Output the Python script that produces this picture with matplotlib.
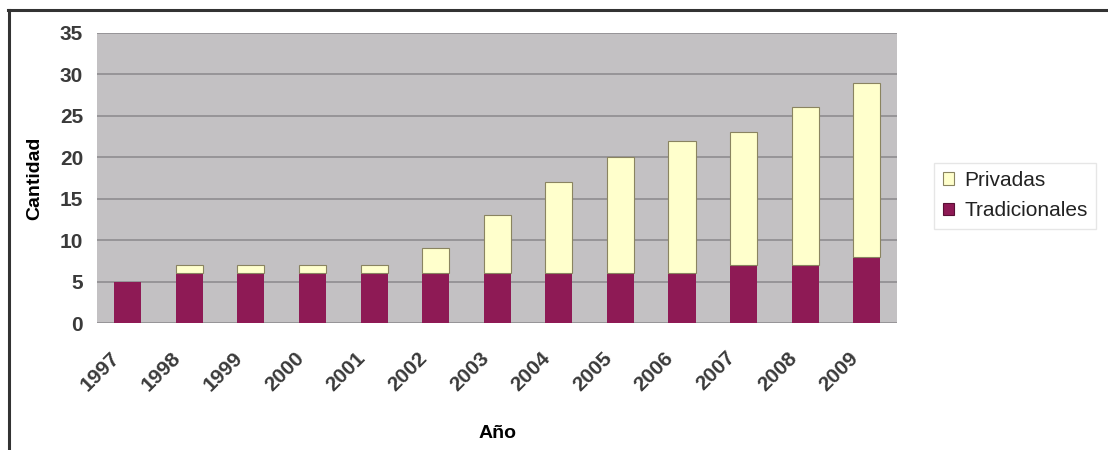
import numpy as np
import matplotlib.pyplot as plt
from matplotlib.lines import Line2D
from matplotlib.patches import Patch
from matplotlib.transforms import ScaledTranslation

plt.rcParams['font.family'] = ['Liberation Sans', 'DejaVu Sans']

anios = ['1997', '1998', '1999', '2000', '2001', '2002', '2003',
         '2004', '2005', '2006', '2007', '2008', '2009']
tradicionales = [5, 6, 6, 6, 6, 6, 6, 6, 6, 6, 7, 7, 8]
privadas = [0, 1, 1, 1, 1, 3, 7, 11, 14, 16, 16, 19, 21]

col_trad = '#8E1A55'
col_priv = '#FFFFCC'
borde_priv = '#8A8460'

fig = plt.figure(figsize=(11.08, 4.5), dpi=100)
ax = fig.add_axes([0.0875, 0.282, 0.7225, 0.645])

x = np.arange(len(anios))
ancho = 0.44
ax.bar(x, tradicionales, ancho, color=col_trad, zorder=3)
bordes = [borde_priv if p > 0 else 'none' for p in privadas]
ax.bar(x, privadas, ancho, bottom=tradicionales, color=col_priv,
       edgecolor=bordes, linewidth=0.8, zorder=3)

ax.set_facecolor('#C3C1C3')
ax.set_xlim(-0.5, len(anios) - 0.5)
ax.set_ylim(0, 35)
ax.set_yticks(range(0, 36, 5))
ax.yaxis.grid(True, color='#8F8D90', linewidth=1.2, zorder=0)
ax.set_axisbelow(True)

ax.set_xticks(x)
ax.set_xticklabels(anios, rotation=45, ha='right', rotation_mode='anchor',
                   fontsize=15, fontweight='bold', color='#3A3A3A')
ax.tick_params(axis='x', length=0, pad=18)
desplaz = ScaledTranslation(-0.18, 0, fig.dpi_scale_trans)
for lab in ax.get_xticklabels():
    lab.set_transform(lab.get_transform() + desplaz)
ax.tick_params(axis='y', length=0, labelsize=15, colors='#3A3A3A', pad=10)
for lab in ax.get_yticklabels():
    lab.set_fontweight('bold')
for s in ax.spines.values():
    s.set_visible(False)

ax.set_ylabel('Cantidad', fontsize=14, fontweight='bold', labelpad=12)
ax.set_xlabel('Año', fontsize=14, fontweight='bold', labelpad=22)

handles = [Patch(facecolor=col_priv, edgecolor=borde_priv, linewidth=0.8),
           Patch(facecolor=col_trad, edgecolor='#5A1035', linewidth=0.8)]
leg = fig.legend(handles, ['Privadas', 'Tradicionales'], loc='center left',
                 bbox_to_anchor=(0.834, 0.565), fontsize=15, frameon=True,
                 fancybox=False, handlelength=0.55, handleheight=0.55,
                 handletextpad=0.5, labelspacing=0.55, borderpad=0.4)
leg.get_frame().set_edgecolor('#E0E0E0')
leg.get_frame().set_linewidth(1.0)
for t in leg.get_texts():
    t.set_color('#222222')

# marco del gráfico
fig.add_artist(Line2D([0.007, 1.0], [0.978, 0.978], color='#333333', linewidth=2.2,
                      transform=fig.transFigure))
fig.add_artist(Line2D([0.008, 0.008], [0.0, 0.978], color='#333333', linewidth=2.2,
                      transform=fig.transFigure))

fig.savefig('out.png', dpi=100)
